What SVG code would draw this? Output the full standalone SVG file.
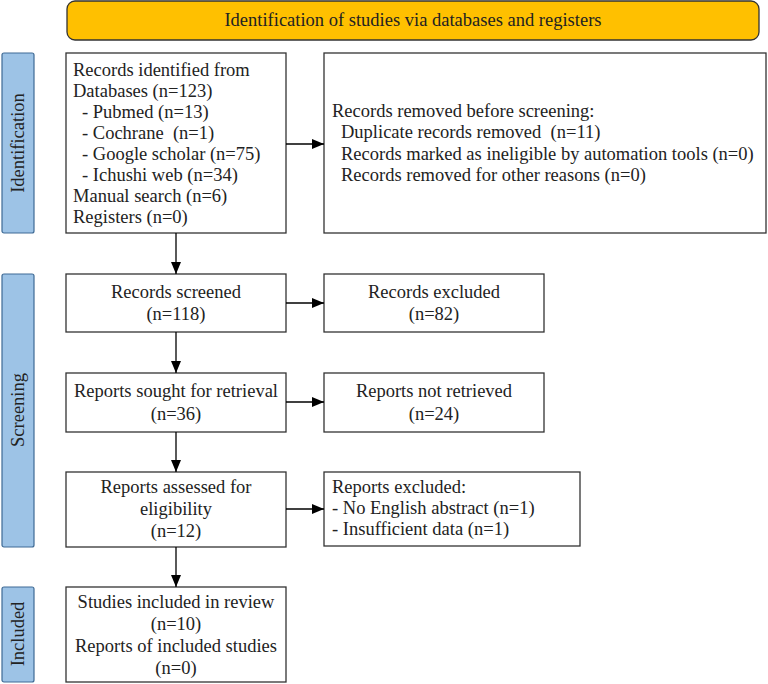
<svg xmlns="http://www.w3.org/2000/svg" width="768" height="684" viewBox="0 0 768 684">
<style>
text{font-family:"Liberation Serif","Times New Roman",serif;font-size:18.5px;fill:#222;white-space:pre}
.box{fill:#fff;stroke:#333;stroke-width:1.3}
.side{fill:#9DC3E6;stroke:#3E6A95;stroke-width:1.2}
.hdr{fill:#FFC000;stroke:#333;stroke-width:1.3}
.c{text-anchor:middle}
.conn{stroke:#000;stroke-width:1.3;fill:none;marker-end:url(#ah)}
</style>
<defs>
<marker id="ah" viewBox="0 0 12 10" refX="12" refY="5" markerWidth="12" markerHeight="10" markerUnits="userSpaceOnUse" orient="auto">
<path d="M0,0 L12,5 L0,10 Z" fill="#000"/>
</marker>
</defs>
<rect width="768" height="684" fill="#fff"/>
<g id="header">
<rect class="hdr" x="67" y="1" width="692" height="39" rx="8"/>
<text class="c" x="413" y="26">Identification of studies via databases and registers</text>
</g>
<g id="lbl-identification">
<rect class="side" x="2" y="53" width="32" height="180" rx="2"/>
<text class="c" transform="translate(24,143) rotate(-90)">Identification</text>
</g>
<g id="lbl-screening">
<rect class="side" x="2" y="274" width="32" height="273" rx="2"/>
<text class="c" transform="translate(24,410) rotate(-90)">Screening</text>
</g>
<g id="lbl-included">
<rect class="side" x="2" y="587" width="32" height="95" rx="2"/>
<text class="c" transform="translate(24,634) rotate(-90)">Included</text>
</g>
<g id="identified">
<rect class="box" x="66" y="53" width="220" height="180"/>
<text x="73" y="76">Records identified from</text>
<text x="73" y="97">Databases (n=123)</text>
<text x="82" y="118">- Pubmed (n=13)</text>
<text x="82" y="139">- Cochrane  (n=1)</text>
<text x="82" y="160">- Google scholar (n=75)</text>
<text x="82" y="181">- Ichushi web (n=34)</text>
<text x="73" y="202">Manual search (n=6)</text>
<text x="73" y="223">Registers (n=0)</text>
</g>
<g id="removed">
<rect class="box" x="324" y="53" width="442" height="180"/>
<text x="332" y="117">Records removed before screening:</text>
<text x="341" y="138">Duplicate records removed  (n=11)</text>
<text x="341" y="160">Records marked as ineligible by automation tools (n=0)</text>
<text x="341" y="181">Records removed for other reasons (n=0)</text>
</g>
<g id="screened">
<rect class="box" x="66" y="274" width="220" height="58"/>
<text class="c" x="176" y="298">Records screened</text>
<text class="c" x="176" y="320">(n=118)</text>
</g>
<g id="excluded">
<rect class="box" x="324" y="274" width="220" height="58"/>
<text class="c" x="434" y="298">Records excluded</text>
<text class="c" x="434" y="320">(n=82)</text>
</g>
<g id="sought">
<rect class="box" x="66" y="373" width="220" height="59"/>
<text class="c" x="176" y="397">Reports sought for retrieval</text>
<text class="c" x="176" y="420">(n=36)</text>
</g>
<g id="notretrieved">
<rect class="box" x="324" y="373" width="220" height="59"/>
<text class="c" x="434" y="397">Reports not retrieved</text>
<text class="c" x="434" y="420">(n=24)</text>
</g>
<g id="assessed">
<rect class="box" x="66" y="472" width="220" height="75"/>
<text class="c" x="176" y="493">Reports assessed for</text>
<text class="c" x="176" y="515">eligibility</text>
<text class="c" x="176" y="537">(n=12)</text>
</g>
<g id="reportsexcluded">
<rect class="box" x="324" y="472" width="256" height="74"/>
<text x="332" y="493">Reports excluded:</text>
<text x="332" y="514">- No English abstract (n=1)</text>
<text x="332" y="535">- Insufficient data (n=1)</text>
</g>
<g id="included">
<rect class="box" x="66" y="587" width="220" height="95"/>
<text class="c" x="176" y="608">Studies included in review</text>
<text class="c" x="176" y="630">(n=10)</text>
<text class="c" x="176" y="652">Reports of included studies</text>
<text class="c" x="176" y="674">(n=0)</text>
</g>
<g id="connectors">
<path class="conn" d="M176,233 V274"/>
<path class="conn" d="M176,332 V373"/>
<path class="conn" d="M176,432 V472"/>
<path class="conn" d="M176,547 V587"/>
<path class="conn" d="M286,144 H324"/>
<path class="conn" d="M286,303 H324"/>
<path class="conn" d="M286,402 H324"/>
<path class="conn" d="M286,509 H324"/>
</g>
</svg>
